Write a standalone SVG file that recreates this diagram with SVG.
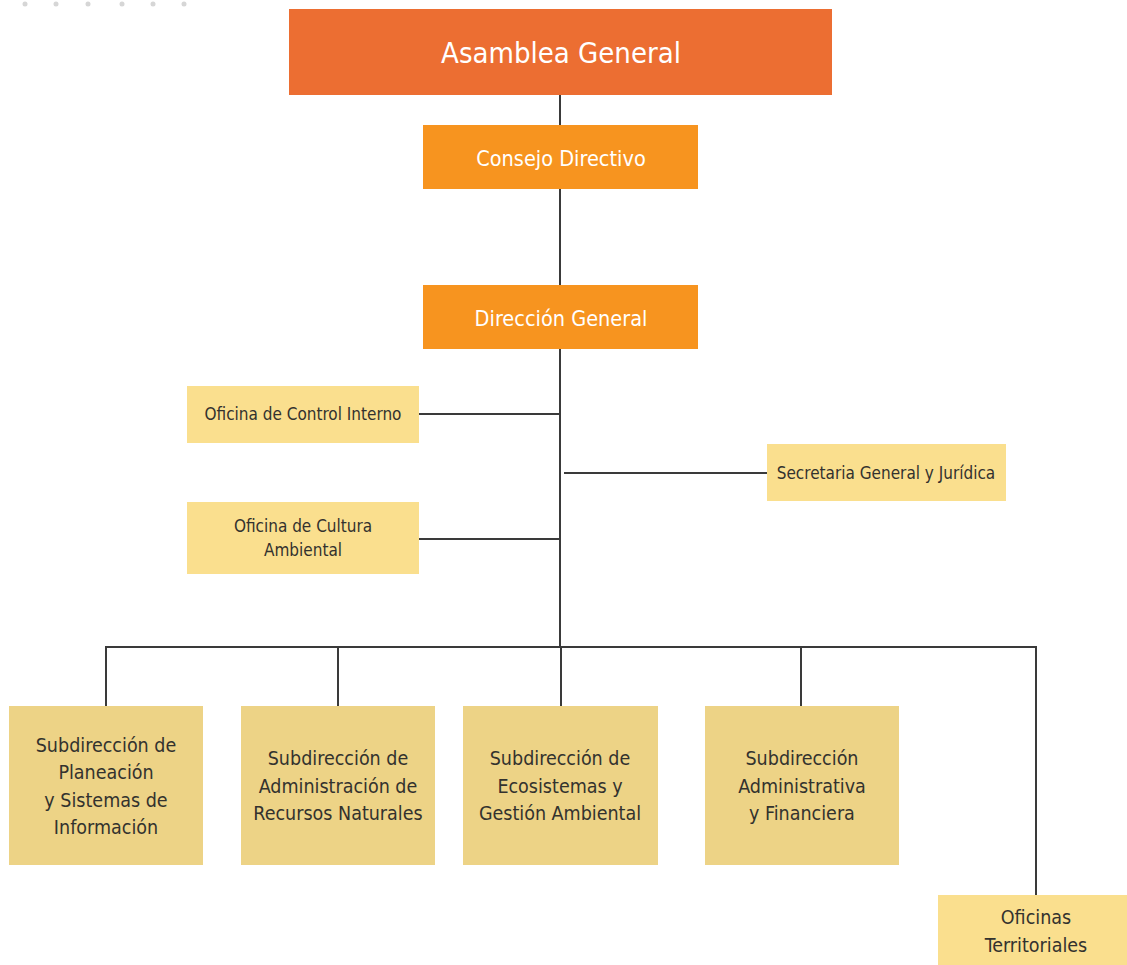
<svg xmlns="http://www.w3.org/2000/svg" width="1127" height="965" viewBox="0 0 1127 965">
<style>
.t{font-family:"Liberation Sans Narrow","DejaVu Sans Condensed","Roboto Condensed","Liberation Sans",sans-serif;text-anchor:middle;dominant-baseline:central}
.w{fill:#ffffff}
.d{fill:#33322e}
.top{fill:#ec6e32}
.mid{fill:#f7941f}
.lt{fill:#fadf8e}
.sub{fill:#edd386}
.c{stroke:#3a3a3a;stroke-width:2;fill:none}
.dot{fill:#d6d6d6}
</style>
<rect width="1127" height="965" fill="#ffffff"/>
<g id="dots">
<circle class="dot" cx="25" cy="4" r="2.5"/>
<circle class="dot" cx="56" cy="4" r="2.5"/>
<circle class="dot" cx="88" cy="4" r="2.5"/>
<circle class="dot" cx="122" cy="4" r="2.5"/>
<circle class="dot" cx="153" cy="4" r="2.5"/>
<circle class="dot" cx="184" cy="4" r="2.5"/>
</g>
<g id="connectors">
<path class="c" d="M560 95V125M560 189V285M560 349V647"/>
<path class="c" d="M419 414H560M419 539H560M564 473H767"/>
<path class="c" d="M106 706V647H1036V895"/>
<path class="c" d="M338 647V706M561 647V706M801 647V706"/>
</g>
<g id="asamblea">
<rect class="top" x="289" y="9" width="543" height="86"/>
<text class="t w" x="561" y="53" font-size="29">Asamblea General</text>
</g>
<g id="consejo">
<rect class="mid" x="423" y="125" width="275" height="64"/>
<text class="t w" x="561" y="158" font-size="21.5">Consejo Directivo</text>
</g>
<g id="direccion">
<rect class="mid" x="423" y="285" width="275" height="64"/>
<text class="t w" x="561" y="318" font-size="21.5">Dirección General</text>
</g>
<g id="control">
<rect class="lt" x="187" y="386" width="232" height="57"/>
<text class="t d" x="303" y="414" font-size="17">Oficina de Control Interno</text>
</g>
<g id="cultura">
<rect class="lt" x="187" y="502" width="232" height="72"/>
<text class="t d" x="303" y="526" font-size="17">Oficina de Cultura</text>
<text class="t d" x="303" y="550" font-size="17">Ambiental</text>
</g>
<g id="secretaria">
<rect class="lt" x="767" y="444" width="239" height="57"/>
<text class="t d" x="886" y="473" font-size="17">Secretaria General y Jurídica</text>
</g>
<g id="planeacion">
<rect class="sub" x="9" y="706" width="194" height="159"/>
<text class="t d" x="106" y="745" font-size="19.5">Subdirección de</text>
<text class="t d" x="106" y="772" font-size="19.5">Planeación</text>
<text class="t d" x="106" y="800" font-size="19.5">y Sistemas de</text>
<text class="t d" x="106" y="827" font-size="19.5">Información</text>
</g>
<g id="recursos">
<rect class="sub" x="241" y="706" width="194" height="159"/>
<text class="t d" x="338" y="758" font-size="19.5">Subdirección de</text>
<text class="t d" x="338" y="786" font-size="19.5">Administración de</text>
<text class="t d" x="338" y="813" font-size="19.5">Recursos Naturales</text>
</g>
<g id="ecosistemas">
<rect class="sub" x="463" y="706" width="195" height="159"/>
<text class="t d" x="560" y="758" font-size="19.5">Subdirección de</text>
<text class="t d" x="560" y="786" font-size="19.5">Ecosistemas y</text>
<text class="t d" x="560" y="813" font-size="19.5">Gestión Ambiental</text>
</g>
<g id="administrativa">
<rect class="sub" x="705" y="706" width="194" height="159"/>
<text class="t d" x="802" y="758" font-size="19.5">Subdirección</text>
<text class="t d" x="802" y="786" font-size="19.5">Administrativa</text>
<text class="t d" x="802" y="813" font-size="19.5">y Financiera</text>
</g>
<g id="territoriales">
<rect class="lt" x="938" y="895" width="189" height="70"/>
<text class="t d" x="1036" y="917" font-size="19.5">Oficinas</text>
<text class="t d" x="1036" y="945" font-size="19.5">Territoriales</text>
</g>
</svg>
